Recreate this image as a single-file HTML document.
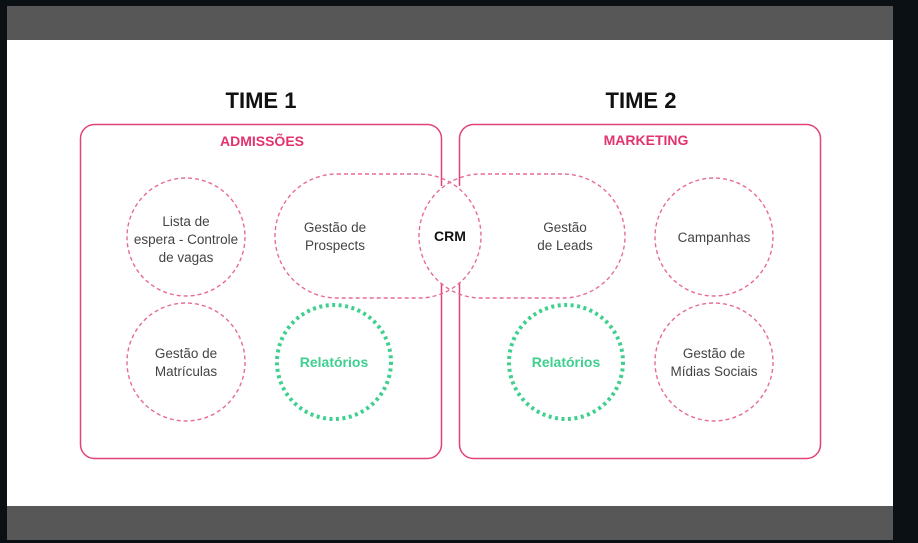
<!DOCTYPE html>
<html><head><meta charset="utf-8"><style>
html,body{margin:0;padding:0;background:#0b1015;}
svg{display:block}
</style></head><body>
<svg width="918" height="543" viewBox="0 0 918 543" xmlns="http://www.w3.org/2000/svg">
<rect x="0" y="0" width="918" height="543" fill="#0b1015"/>
<rect x="7" y="6" width="886" height="34" fill="#575757"/>
<rect x="7" y="40" width="886" height="466" fill="#ffffff"/>
<rect x="7" y="506" width="886" height="34" fill="#575757"/>
<g font-family="'Liberation Sans', sans-serif">
<text x="261" y="108" text-anchor="middle" font-size="22" font-weight="bold" fill="#111">TIME 1</text>
<text x="641" y="108" text-anchor="middle" font-size="22" font-weight="bold" fill="#111">TIME 2</text>
<rect x="80.5" y="124.5" width="361" height="334" rx="14" fill="none" stroke="#e2417a" stroke-width="1.5"/>
<rect x="459.5" y="124.5" width="361" height="334" rx="14" fill="none" stroke="#e2417a" stroke-width="1.5"/>
<rect x="436" y="186" width="28" height="97" fill="#fff"/>
<text x="262" y="146" text-anchor="middle" font-size="14" font-weight="bold" fill="#e2336f">ADMISSÕES</text>
<text x="646" y="145" text-anchor="middle" font-size="14" font-weight="bold" fill="#e2336f">MARKETING</text>
<g fill="none" stroke="#e66c97" stroke-width="1.4" stroke-dasharray="4 3">
<circle cx="186" cy="237" r="59"/>
<circle cx="186" cy="362" r="59"/>
<circle cx="714" cy="237" r="59"/>
<circle cx="714" cy="362" r="59"/>
<rect x="275" y="174" width="206" height="124" rx="62"/>
<rect x="419" y="174" width="206" height="124" rx="62"/>
</g>
<g fill="none" stroke="#3fcf8f" stroke-width="4" stroke-dasharray="3 3.5">
<circle cx="334" cy="362" r="57"/>
<circle cx="566" cy="362" r="57"/>
</g>
<g font-size="13.5" fill="#444" text-anchor="middle">
<text x="186" y="226">Lista de</text>
<text x="186" y="244">espera - Controle</text>
<text x="186" y="262">de vagas</text>
<text x="335" y="232">Gestão de</text>
<text x="335" y="250">Prospects</text>
<text x="565" y="232">Gestão</text>
<text x="565" y="250">de Leads</text>
<text x="714" y="242">Campanhas</text>
<text x="186" y="358">Gestão de</text>
<text x="186" y="376">Matrículas</text>
<text x="714" y="358">Gestão de</text>
<text x="714" y="376">Mídias Sociais</text>
</g>
<text x="450" y="241" text-anchor="middle" font-size="14" font-weight="bold" fill="#111">CRM</text>
<text x="334" y="367" text-anchor="middle" font-size="14" font-weight="bold" fill="#3fcf8f">Relatórios</text>
<text x="566" y="367" text-anchor="middle" font-size="14" font-weight="bold" fill="#3fcf8f">Relatórios</text>
</g>
</svg>
</body></html>
